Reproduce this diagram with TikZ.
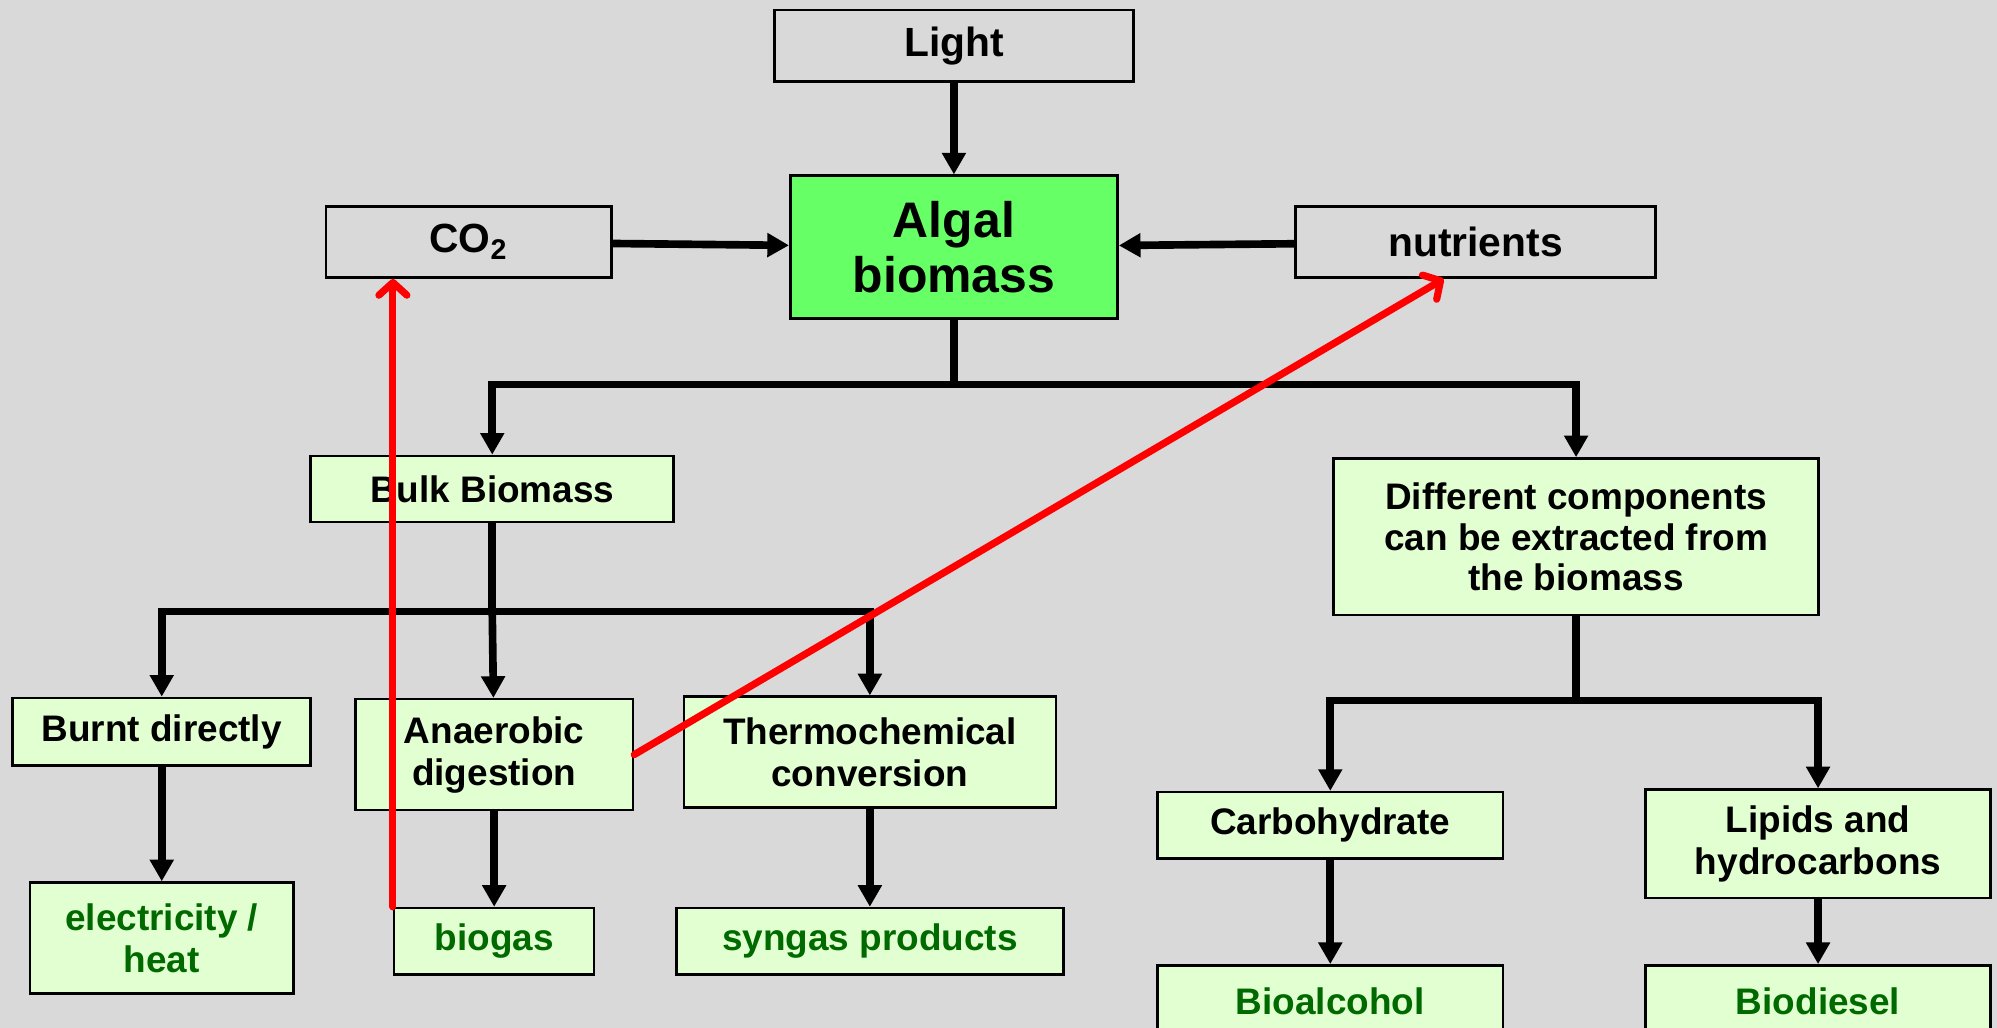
\documentclass[tikz,border=0pt]{standalone}
\usepackage{fontspec}
\setmainfont{Liberation Sans}
\usetikzlibrary{arrows.meta, positioning}
\definecolor{slidegray}{HTML}{D9D9D9}
\definecolor{algalgreen}{HTML}{66FF66}
\definecolor{palegreen}{HTML}{E2FFD2}
\definecolor{darkgreen}{HTML}{006A00}
\tikzset{
  inbox/.style={draw, line width=1pt, align=center, inner sep=0pt, minimum height=28pt, font=\fontsize{16}{18}\selectfont\bfseries},
  algbox/.style={draw, line width=1pt, fill=algalgreen, align=center, inner sep=0pt, minimum width=128.5pt, minimum height=56pt, font=\fontsize{19.6}{21.5}\selectfont\bfseries},
  procbox/.style={draw, line width=1pt, fill=palegreen, align=center, inner sep=0pt, minimum height=26pt, font=\fontsize{14.5}{16.5}\selectfont\bfseries},
  prodbox/.style={procbox, text=darkgreen},
  arrow/.style={-{Triangle[length=8.5pt, width=9pt]}, line width=3pt},
  branch/.style={line width=3pt},
  recycle/.style={-{Straight Barb[length=5pt, width=11pt, round]}, line width=2.8pt, red, line cap=round}
}
\begin{document}
\begin{tikzpicture}[x=0.5pt, y=-0.5pt]
    \fill[slidegray] (0,0) rectangle (1568,807);
    \useasboundingbox (0,0) rectangle (1568,807);

    % inputs
    \node[inbox, minimum width=141pt] (light) at (749,36) {Light};
    \node[algbox, below=36pt of light] (alg) {Algal\\biomass};
    \node[inbox, minimum width=112pt] (co2) at (368,190) {CO\textsubscript{2}};
    \node[inbox, minimum width=141.5pt] (nutr) at (1158.5,190) {nutrients};

    % routes
    \node[procbox, minimum width=142.5pt] (bulk) at (386.5,384) {Bulk Biomass};
    \node[procbox, minimum width=190.5pt, minimum height=61.5pt, font=\fontsize{14.5}{15.8}\selectfont\bfseries] (diff) at (1237.5,421.5) {Different components\\can be extracted from\\the biomass};
    \node[procbox, minimum width=117pt, minimum height=26.5pt] (burnt) at (127,574.5) {Burnt directly};
    \node[procbox, minimum width=109pt, minimum height=43.5pt] (anaer) at (388,592.5) {Anaerobic\\digestion};
    \node[procbox, minimum width=146pt, minimum height=43.5pt] (thermo) at (683,590.5) {Thermochemical\\conversion};
    \node[procbox, minimum width=135.5pt] (carb) at (1044.5,648) {Carbohydrate};
    \node[procbox, minimum width=135.5pt, minimum height=42.5pt] (lipids) at (1427.5,662.5) {Lipids and\\hydrocarbons};

    % products
    \node[prodbox, minimum width=103.5pt, minimum height=43.5pt, below=45pt of burnt] (elec) {electricity /\\heat};
    \node[prodbox, minimum width=78.5pt, below=37.5pt of anaer] (biogas) {biogas};
    \node[prodbox, minimum width=152pt, below=38.5pt of thermo] (syngas) {syngas products};
    \node[prodbox, minimum width=135.5pt, minimum height=28pt, below=41pt of carb] (bioalc) {Bioalcohol};
    \node[prodbox, minimum width=135.5pt, minimum height=28pt, below=25.5pt of lipids] (biodiesel) {Biodiesel};

    \coordinate (j1) at (749,302);
    \coordinate (j2) at (386.5,480);
    \coordinate (j3) at (1237.5,550);

    \draw[arrow] (light) -- (alg);
    \draw[arrow] (co2) -- (alg);
    \draw[arrow] (nutr) -- (alg);

    \draw[branch] (alg) -- (j1);
    \draw[arrow] (j1) -| (bulk);
    \draw[arrow] (j1) -| (diff);

    \draw[branch] (bulk) -- (j2);
    \draw[arrow] (j2) -| (burnt);
    \draw[arrow] (j2) -- (anaer);
    \draw[arrow] (j2) -| (thermo);

    \draw[branch] (diff) -- (j3);
    \draw[arrow] (j3) -| (carb);
    \draw[arrow] (j3) -| (lipids);

    \draw[arrow] (burnt) -- (elec);
    \draw[arrow] (anaer) -- (biogas);
    \draw[arrow] (thermo) -- (syngas);
    \draw[arrow] (carb) -- (bioalc);
    \draw[arrow] (lipids) -- (biodiesel);

    % recycling back to the inputs
    \draw[recycle] (biogas.north west) -- (biogas.north west |- co2.south);
    \draw[recycle] (anaer.east) -- ([xshift=-12.5pt]nutr.south);
\end{tikzpicture}
\end{document}
